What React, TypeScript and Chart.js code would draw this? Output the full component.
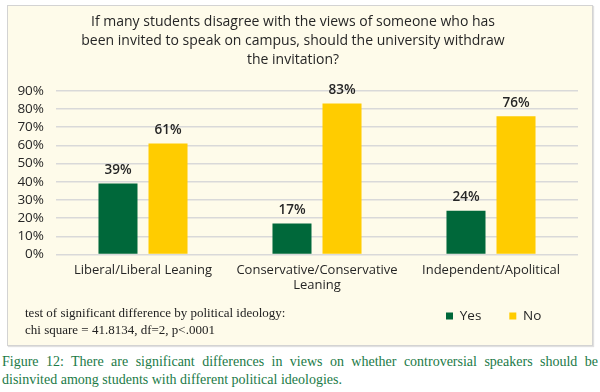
import React, { useEffect, useRef } from "react";
import { Chart, registerables } from "chart.js";

Chart.register(...registerables);

// ---- data ----
const categories: (string | string[])[] = [
  "Liberal/Liberal Leaning",
  ["Conservative/Conservative", "Leaning"],
  "Independent/Apolitical",
];
const seriesNames = ["Yes", "No"];
const yesValues = [39, 17, 24];
const noValues = [61, 83, 76];
const yMin = 0;
const yMax = 90;
const yStep = 10;
const titleLines = [
  "If many students disagree with the views of someone who has",
  "been invited to speak on campus, should the university withdraw",
  "the invitation?",
];
const footnoteLines = [
  "test of significant difference by political ideology:",
  "chi square = 41.8134, df=2, p<.0001",
];
const captionLines = [
  "Figure 12: There are significant differences in views on whether controversial speakers should be",
  "disinvited among students with different political ideologies.",
];

// ---- style ----
const GREEN = "#00683a";
const YELLOW = "#ffcc00";
const TEXT = "#262626";
const SANS = "'Open Sans', sans-serif";
const LEGEND_PAD = 28;
const LEGEND_FONT = 13.5;
const LEGEND_X = 438; // canvas-relative x of first legend box
const LEGEND_Y = 310; // canvas-relative centre of legend row

const legendPlace = {
  id: "legendPlace",
  afterLayout(chart: any) {
    const lg = chart.legend;
    if (!lg) return;
    const h = lg.height;
    lg.left = LEGEND_X - LEGEND_PAD;
    lg.right = chart.width;
    lg.top = LEGEND_Y - LEGEND_PAD - LEGEND_FONT / 2;
    lg.bottom = lg.top + h;
  },
};

const valueLabels = {
  id: "valueLabels",
  afterDatasetsDraw(chart: any) {
    const ctx = chart.ctx;
    ctx.save();
    ctx.font = `600 13.5px ${SANS}`;
    ctx.fillStyle = TEXT;
    ctx.textAlign = "center";
    ctx.textBaseline = "middle";
    chart.data.datasets.forEach((ds: any, di: number) => {
      const meta = chart.getDatasetMeta(di);
      meta.data.forEach((el: any, i: number) => {
        ctx.fillText(`${ds.data[i]}%`, el.x, el.y - 13.5);
      });
    });
    ctx.restore();
  },
};

export default function App() {
  const ref = useRef<HTMLCanvasElement>(null);

  useEffect(() => {
    const chart = new Chart(ref.current!, {
      type: "bar",
      data: {
        labels: categories as any,
        datasets: [
          {
            label: seriesNames[0],
            data: yesValues,
            backgroundColor: GREEN,
            borderWidth: 0,
            categoryPercentage: 0.575,
            barPercentage: 0.78,
          },
          {
            label: seriesNames[1],
            data: noValues,
            backgroundColor: YELLOW,
            borderWidth: 0,
            categoryPercentage: 0.575,
            barPercentage: 0.78,
          },
        ],
      },
      options: {
        responsive: false,
        animation: false,
        devicePixelRatio: 1,
        layout: { padding: { left: 0, right: 14, top: 0, bottom: 11.5 } },
        plugins: {
          title: {
            display: true,
            text: titleLines,
            color: TEXT,
            font: { family: SANS, size: 14, weight: "normal", lineHeight: 1.33 },
            padding: { top: 7, bottom: 22 },
          },
          legend: {
            display: true,
            position: "bottom",
            align: "start",
            maxHeight: 40,
            labels: {
              boxWidth: 7,
              boxHeight: 7,
              padding: LEGEND_PAD,
              color: TEXT,
              font: { family: SANS, size: LEGEND_FONT },
            },
          },
          tooltip: { enabled: false },
        },
        scales: {
          x: {
            grid: { display: false, drawTicks: false },
            border: { display: false },
            ticks: {
              color: TEXT,
              font: { family: SANS, size: 13, lineHeight: 1.18 },
              padding: 8,
              autoSkip: false,
              maxRotation: 0,
            },
            afterFit: (s: any) => {
              s.height = 39;
            },
          },
          y: {
            min: yMin,
            max: yMax,
            grid: { color: "#d9d9d9", lineWidth: 1.5, drawTicks: false },
            border: { display: false },
            ticks: {
              stepSize: yStep,
              autoSkip: false,
              color: TEXT,
              font: { family: SANS, size: 13.5 },
              padding: 12,
              callback: (v: any) => `${v}%`,
            },
            afterFit: (s: any) => {
              s.width = 48;
            },
          },
        },
      },
      plugins: [legendPlace, valueLabels],
    });
    return () => chart.destroy();
  }, []);

  return (
    <div
      style={{
        position: "absolute",
        left: 0,
        top: 0,
        width: 600,
        height: 392,
        background: "#ffffff",
        overflow: "hidden",
      }}
    >
      <div
        style={{
          position: "absolute",
          left: 7,
          top: 5,
          width: 586,
          height: 341,
          boxSizing: "border-box",
          border: "1px solid #d3d3d3",
          boxShadow: "1px 1px 1px rgba(0,0,0,0.12)",
          background: "#fefbea",
        }}
      >
        <canvas
          ref={ref}
          width={584}
          height={339}
          style={{ position: "absolute", left: 0, top: 0, width: 584, height: 339 }}
        />
        <div
          style={{
            position: "absolute",
            left: 17,
            top: 299,
            fontFamily: "'Liberation Serif', serif",
            fontSize: 13,
            lineHeight: "16.5px",
            color: "#222",
            whiteSpace: "nowrap",
          }}
        >
          {footnoteLines.map((t, i) => (
            <div key={i}>{t}</div>
          ))}
        </div>
      </div>
      <div
        style={{
          position: "absolute",
          left: 2,
          top: 353,
          width: 596,
          fontFamily: "'Liberation Serif', serif",
          fontSize: 14,
          lineHeight: "17.5px",
          color: "#1b7a47",
        }}
      >
        <div style={{ textAlign: "justify", textAlignLast: "justify", whiteSpace: "nowrap" }}>
          {captionLines[0]}
        </div>
        <div>{captionLines[1]}</div>
      </div>
    </div>
  );
}
